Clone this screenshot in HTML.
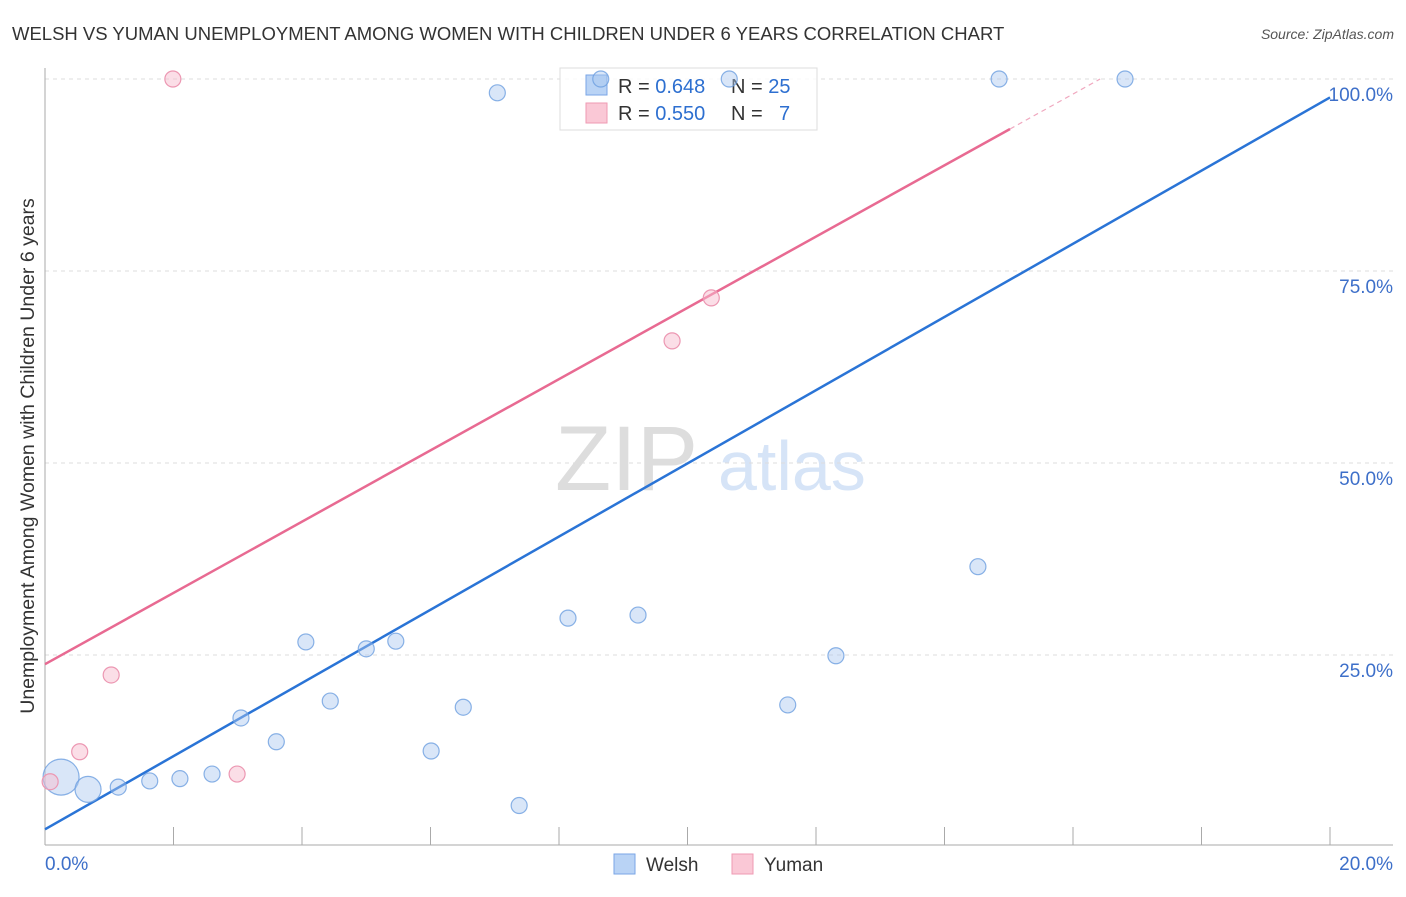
<!DOCTYPE html>
<html><head><meta charset="utf-8"><style>
body{margin:0;background:#fff;font-family:"Liberation Sans",sans-serif;}
svg text{font-family:"Liberation Sans",sans-serif;}
</style></head><body>
<svg width="1406" height="892" xmlns="http://www.w3.org/2000/svg">
<text x="12" y="40" font-size="18.5" fill="#333">WELSH VS YUMAN UNEMPLOYMENT AMONG WOMEN WITH CHILDREN UNDER 6 YEARS CORRELATION CHART</text>
<text x="1394" y="39" font-size="14" fill="#555" font-style="italic" text-anchor="end">Source: ZipAtlas.com</text>
<text x="555" y="490" font-size="92" fill="#ddd" font-family="Liberation Serif">ZIP</text>
<text x="718" y="490" font-size="70" fill="#d6e4f7">atlas</text>
<text transform="translate(34,456) rotate(-90)" font-size="19.5" fill="#333" text-anchor="middle">Unemployment Among Women with Children Under 6 years</text>
<g id="grid"></g><g id="axes"></g><g id="lines"></g>
<g>
<rect x="560" y="68" width="257" height="62" fill="#fff" fill-opacity="0.85" stroke="#ddd"/>
<rect x="586" y="75" width="21" height="20" fill="#b9d3f5" stroke="#7aa6e6"/>
<rect x="586" y="103" width="21" height="20" fill="#fac8d6" stroke="#ef9ab3"/>
<text x="618" y="93" font-size="20" fill="#333">R = <tspan fill="#2d6fd0">0.648</tspan></text>
<text x="731" y="93" font-size="20" fill="#333">N = <tspan fill="#2d6fd0">25</tspan></text>
<text x="618" y="120" font-size="20" fill="#333">R = <tspan fill="#2d6fd0">0.550</tspan></text>
<text x="731" y="120" font-size="20" fill="#333">N = <tspan fill="#2d6fd0" x="779">7</tspan></text>
</g>
<g id="pts"></g>
<g>
<rect x="614" y="854" width="21" height="20" fill="#b9d3f5" stroke="#7aa6e6"/>
<text x="646" y="871" font-size="19" fill="#333">Welsh</text>
<rect x="732" y="854" width="21" height="20" fill="#fac8d6" stroke="#ef9ab3"/>
<text x="764" y="871" font-size="19" fill="#333">Yuman</text>
</g>
<text x="45" y="870" font-size="19" fill="#3d6fc9">0.0%</text>
<text x="1393" y="870" font-size="19" fill="#3d6fc9" text-anchor="end">20.0%</text>
</svg>
<script>
const welshX=[0.25,0.67,1.14,1.63,2.10,2.60,3.05,3.60,4.06,4.44,5.00,5.46,6.01,6.51,7.04,7.38,8.14,8.65,9.23,10.65,11.56,12.31,14.52,14.85,16.81];
const welshY=[9.1,7.5,7.8,8.6,8.9,9.5,16.8,13.7,26.7,19.0,25.8,26.8,12.5,18.2,98.2,5.4,29.8,100,30.2,100,18.5,24.9,36.5,100,100];
const welshR=[18,13,8,8,8,8,8,8,8,8,8,8,8,8,8,8,8,8,8,8,8,8,8,8,8];
const yumanX=[0.08,0.54,1.03,1.99,2.99,9.76,10.37];
const yumanY=[8.5,12.4,22.4,100,9.5,65.9,71.5];
const yTicks=[25,50,75,100];
const yTickLabels=["25.0%","50.0%","75.0%","100.0%"];
const welshTrend=[2.3,4.765];
const yumanTrend=[23.8,4.64];
const NS="http://www.w3.org/2000/svg";
const sx=v=>45+v/20*1285, sy=v=>847-v/100*768;
function mk(p,t,a){const e=document.createElementNS(NS,t);for(const k in a)e.setAttribute(k,a[k]);p.appendChild(e);return e;}
const grid=document.getElementById('grid'),axes=document.getElementById('axes'),lines=document.getElementById('lines'),pts=document.getElementById('pts');
yTicks.forEach((t,i)=>{
 const l=mk(grid,'line',{x1:45,x2:1393,y1:sy(t),y2:sy(t),stroke:'#ddd','stroke-dasharray':'4,4'});
 
 
 const tx=mk(grid,'text',{x:1393,y:sy(t)+22,'font-size':19,fill:'#3d6fc9','text-anchor':'end'});
 tx.textContent=yTickLabels[i];
 
 
});
const ya=mk(axes,'line',{x1:45,x2:45,y1:68,y2:845,stroke:'#aaa'});


const xa=mk(axes,'line',{x1:45,x2:1393,y1:845,y2:845,stroke:'#aaa'});


for(let i=1;i<=10;i++){const t=mk(axes,'line',{x1:sx(i*2),x2:sx(i*2),y1:827,y2:845,stroke:'#aaa'});
 
 }
const bl=mk(lines,'line',{x1:sx(0),y1:sy(welshTrend[0]),x2:sx(20),y2:sy(welshTrend[0]+20*welshTrend[1]),stroke:'#2a74d6','stroke-width':2.5});


const xEnd=15.02, xMax=(100-yumanTrend[0])/yumanTrend[1];
const pl=mk(lines,'line',{x1:sx(0),y1:sy(yumanTrend[0]),x2:sx(xEnd),y2:sy(yumanTrend[0]+xEnd*yumanTrend[1]),stroke:'#e86a92','stroke-width':2.5});


const pd=mk(lines,'line',{x1:sx(xEnd),y1:sy(yumanTrend[0]+xEnd*yumanTrend[1]),x2:sx(xMax),y2:sy(100),stroke:'#f0a8bf','stroke-width':1.2,'stroke-dasharray':'5,4'});


welshX.forEach((x,i)=>{const c=mk(pts,'circle',{cx:sx(x),cy:sy(welshY[i]),r:welshR[i],fill:'rgba(170,200,240,0.45)',stroke:'rgba(109,159,224,0.8)','stroke-width':1.2});
 
 });
yumanX.forEach((x,i)=>{const c=mk(pts,'circle',{cx:sx(x),cy:sy(yumanY[i]),r:8,fill:'rgba(248,190,208,0.5)',stroke:'#ec97b2','stroke-width':1.2});
 
 });
</script>
</body></html>
